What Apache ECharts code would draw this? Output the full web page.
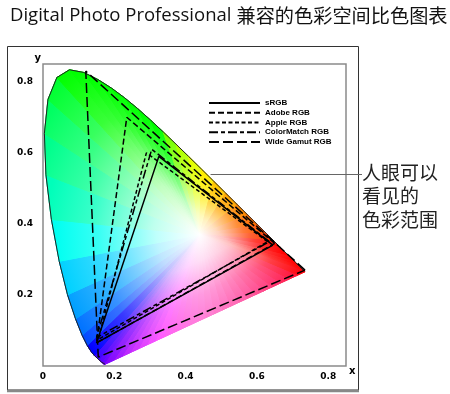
<!DOCTYPE html>
<html><head><meta charset="utf-8">
<script src="https://cdn.jsdelivr.net/npm/echarts@6/dist/echarts.min.js"></script>
<style>html,body{margin:0;padding:0;background:#fff}#c{width:450px;height:394px}</style>
</head><body><div id="c"></div>
<script>
// Spectral locus (chromaticity x, y)
const locusX = [0.1741,0.1733,0.1726,0.1714,0.1689,0.1644,0.1566,0.1440,0.1355,0.1241,0.1096,0.0913,0.0687,0.0454,0.0235,0.0082,0.0039,0.0139,0.0389,0.0743,0.1142,0.1547,0.1929,0.2296,0.2658,0.3016,0.3373,0.3731,0.4087,0.4441,0.4788,0.5125,0.5448,0.5752,0.6029,0.6270,0.6482,0.6658,0.6915,0.7079,0.7190,0.7260,0.7300,0.7334,0.7347];
const locusY = [0.0050,0.0048,0.0048,0.0051,0.0069,0.0109,0.0177,0.0297,0.0399,0.0578,0.0868,0.1327,0.2007,0.2950,0.4127,0.5384,0.6548,0.7502,0.8120,0.8338,0.8262,0.8059,0.7816,0.7543,0.7243,0.6923,0.6589,0.6245,0.5896,0.5547,0.5202,0.4866,0.4544,0.4242,0.3965,0.3725,0.3514,0.3340,0.3083,0.2920,0.2809,0.2740,0.2700,0.2666,0.2653];
const whitePoint = [0.44, 0.37];

const gamutNames = ['sRGB','Adobe RGB','Apple RGB','ColorMatch RGB','Wide Gamut RGB'];
const sRGBPts       = [[0.645,0.34],[0.325,0.59],[0.15,0.065]];
const adobePts      = [[0.65,0.345],[0.235,0.70],[0.15,0.065]];
const applePts      = [[0.63,0.35],[0.29,0.60],[0.155,0.075]];
const colorMatchPts = [[0.635,0.35],[0.305,0.61],[0.15,0.08]];
const wideGamutPts  = [[0.735,0.27],[0.12,0.83],[0.155,0.025]];

const xTickLabels = ['0','0.2','0.4','0.6','0.8'];
const yTickLabels = ['0.2','0.4','0.6','0.8'];
const annotationAnchor = [0.47, 0.54];

const gamuts = [sRGBPts, adobePts, applePts, colorMatchPts, wideGamutPts];
const dashes = ['solid', [6,3], [4,2.5], [9,3,4,3], [10,4]];

function xyColor(x, y) {
  const X = x / y, Y = 1, Z = (1 - x - y) / y;
  let r = 3.2406*X - 1.5372*Y - 0.4986*Z;
  let g = -0.9689*X + 1.8758*Y + 0.0415*Z;
  let b = 0.0557*X - 0.2040*Y + 1.0570*Z;
  r = Math.max(r, 0); g = Math.max(g, 0); b = Math.max(b, 0);
  const m = Math.max(r, g, b);
  const gam = v => v <= 0.0031308 ? 12.92*v : 1.055*Math.pow(v, 1/2.4) - 0.055;
  return [r/m, g/m, b/m].map(v => Math.round(255*gam(v)));
}
function rgbStr(c) { return 'rgb(' + c[0] + ',' + c[1] + ',' + c[2] + ')'; }
function mixWhite(c, t) { return c.map(v => Math.round(255 + (v - 255) * t)); }

function renderFill(params, api) {
  const w = api.coord(whitePoint);
  const ring = locusX.map((x, i) => ({ p: api.coord([x, locusY[i]]), x: x, y: locusY[i], purple: false }));
  const n = locusX.length - 1;
  const N = 24;
  for (let k = 1; k < N; k++) {
    const t = k / N;
    const x = locusX[n] + (locusX[0] - locusX[n]) * t;
    const y = locusY[n] + (locusY[0] - locusY[n]) * t;
    ring.push({ p: api.coord([x, y]), x: x, y: y, purple: true, t: t });
  }
  ring.push(ring[0]);
  const children = [];
  for (let i = 0; i < ring.length - 1; i++) {
    const P = ring[i], Q = ring[i + 1];
    const mx = (P.x + Q.x) / 2, my = (P.y + Q.y) / 2;
    let c = xyColor(mx, my);
    if (P.purple || Q.purple) {
      const t = ((P.purple ? P.t : 0) + (Q.purple ? Q.t : 1)) / 2;
      const s = 0.5 + 0.5 * Math.pow(Math.abs(2 * t - 1), 1.5);
      c = mixWhite(c, s);
    }
    const M = [(P.p[0] + Q.p[0]) / 2, (P.p[1] + Q.p[1]) / 2];
    const grad = new echarts.graphic.LinearGradient(w[0], w[1], M[0], M[1], [
      { offset: 0, color: '#ffffff' },
      { offset: 0.3, color: rgbStr(mixWhite(c, 0.25)) },
      { offset: 0.7, color: rgbStr(mixWhite(c, 0.78)) },
      { offset: 1, color: rgbStr(c) }
    ], true);
    children.push({
      type: 'polygon',
      shape: { points: [w, P.p, Q.p] },
      style: { fill: grad, stroke: grad, lineWidth: 1 }
    });
  }
  return { type: 'group', children: children };
}

const chart = echarts.init(document.getElementById('c'));
const series = [{
  type: 'custom', name: 'fill', renderItem: renderFill, data: [[0, 0]], z: 1, silent: true
}, {
  type: 'line', name: 'locus', data: locusX.map((x, i) => [x, locusY[i]]),
  symbol: 'none', lineStyle: { color: '#222', width: 1 }, z: 3, silent: true
}];
gamuts.forEach((g, i) => {
  series.push({
    type: 'line', name: gamutNames[i],
    data: g.concat([g[0]]),
    symbol: 'none', showSymbol: false,
    itemStyle: { color: '#000' },
    lineStyle: { color: '#000', width: 1.5, type: dashes[i] },
    z: 4
  });
});

const option = {
  animation: false,
  title: {
    text: '{a|Digital Photo Professional} {b|兼容的色彩空间比色图表}',
    left: 5, top: 1,
    textStyle: {
      fontWeight: 'normal',
      rich: {
        a: { fontFamily: 'Open Sans', fontWeight: 'normal', fontSize: 18.5, color: '#111' },
        b: { fontFamily: 'Noto Sans CJK SC', fontWeight: 'normal', fontSize: 19.2, color: '#111' }
      }
    }
  },
  legend: {
    data: gamutNames,
    orient: 'vertical',
    left: 203, top: 94,
    itemWidth: 51, itemHeight: 8, itemGap: 1.75,
    itemStyle: { color: 'transparent', borderColor: 'transparent', borderWidth: 0, opacity: 0 },
    textStyle: { fontFamily: 'Liberation Sans', fontWeight: 'bold', fontSize: 8, color: '#000', lineHeight: 8 },
    selectedMode: false
  },
  grid: { left: 43, right: 104, top: 64, bottom: 28, show: true, borderColor: '#8a8a8a', borderWidth: 1.5, backgroundColor: 'transparent' },
  xAxis: {
    type: 'value', min: 0, max: 0.85, interval: 0.2,
    name: 'x', nameLocation: 'end', nameGap: 3,
    nameTextStyle: { fontFamily: 'DejaVu Sans', fontWeight: 'bold', fontSize: 10, color: '#000', verticalAlign: 'top' },
    axisLine: { show: false }, axisTick: { show: false }, splitLine: { show: false },
    axisLabel: {
      margin: 6, showMaxLabel: false, fontFamily: 'DejaVu Sans', fontWeight: 'bold', fontSize: 9, color: '#000',
      formatter: v => { const s = v === 0 ? '0' : v.toFixed(1); return xTickLabels.indexOf(s) >= 0 && Math.abs(v*10 - Math.round(v*10)) < 1e-6 ? s : ''; }
    }
  },
  yAxis: {
    type: 'value', min: 0, max: 0.85, interval: 0.2,
    name: 'y', nameLocation: 'end', nameGap: 1,
    nameTextStyle: { fontFamily: 'DejaVu Sans', fontWeight: 'bold', fontSize: 10, color: '#000', align: 'right', padding: [0,2,0,0] },
    axisLine: { show: false }, axisTick: { show: false }, splitLine: { show: false },
    axisLabel: {
      margin: 10, showMaxLabel: false, showMinLabel: false, fontFamily: 'DejaVu Sans', fontWeight: 'bold', fontSize: 9, color: '#000',
      formatter: v => { const s = v.toFixed(1); return yTickLabels.indexOf(s) >= 0 && Math.abs(v*10 - Math.round(v*10)) < 1e-6 ? s : ''; }
    }
  },
  series: series
};
chart.setOption(option);

const a = chart.convertToPixel({ gridIndex: 0 }, annotationAnchor);
chart.setOption({
  graphic: [
    { type: 'rect', shape: { x: 7.5, y: 46.5, width: 351, height: 343.5 }, style: { fill: 'none', stroke: '#333', lineWidth: 1 }, silent: true },
    { type: 'line', shape: { x1: 7, y1: 391, x2: 359, y2: 391 }, style: { stroke: '#888', lineWidth: 2.5 }, silent: true },
    { type: 'line', shape: { x1: a[0], y1: 174.5, x2: 362, y2: 174.5 }, style: { stroke: '#666', lineWidth: 1 }, z: 10, silent: true },
    { type: 'text', left: 362, top: 161, style: { text: '人眼可以\n看见的\n色彩范围', fontFamily: 'Noto Sans CJK SC', fontSize: 19, lineHeight: 23.5, fill: '#222' }, silent: true }
  ]
});
</script>
</body></html>
